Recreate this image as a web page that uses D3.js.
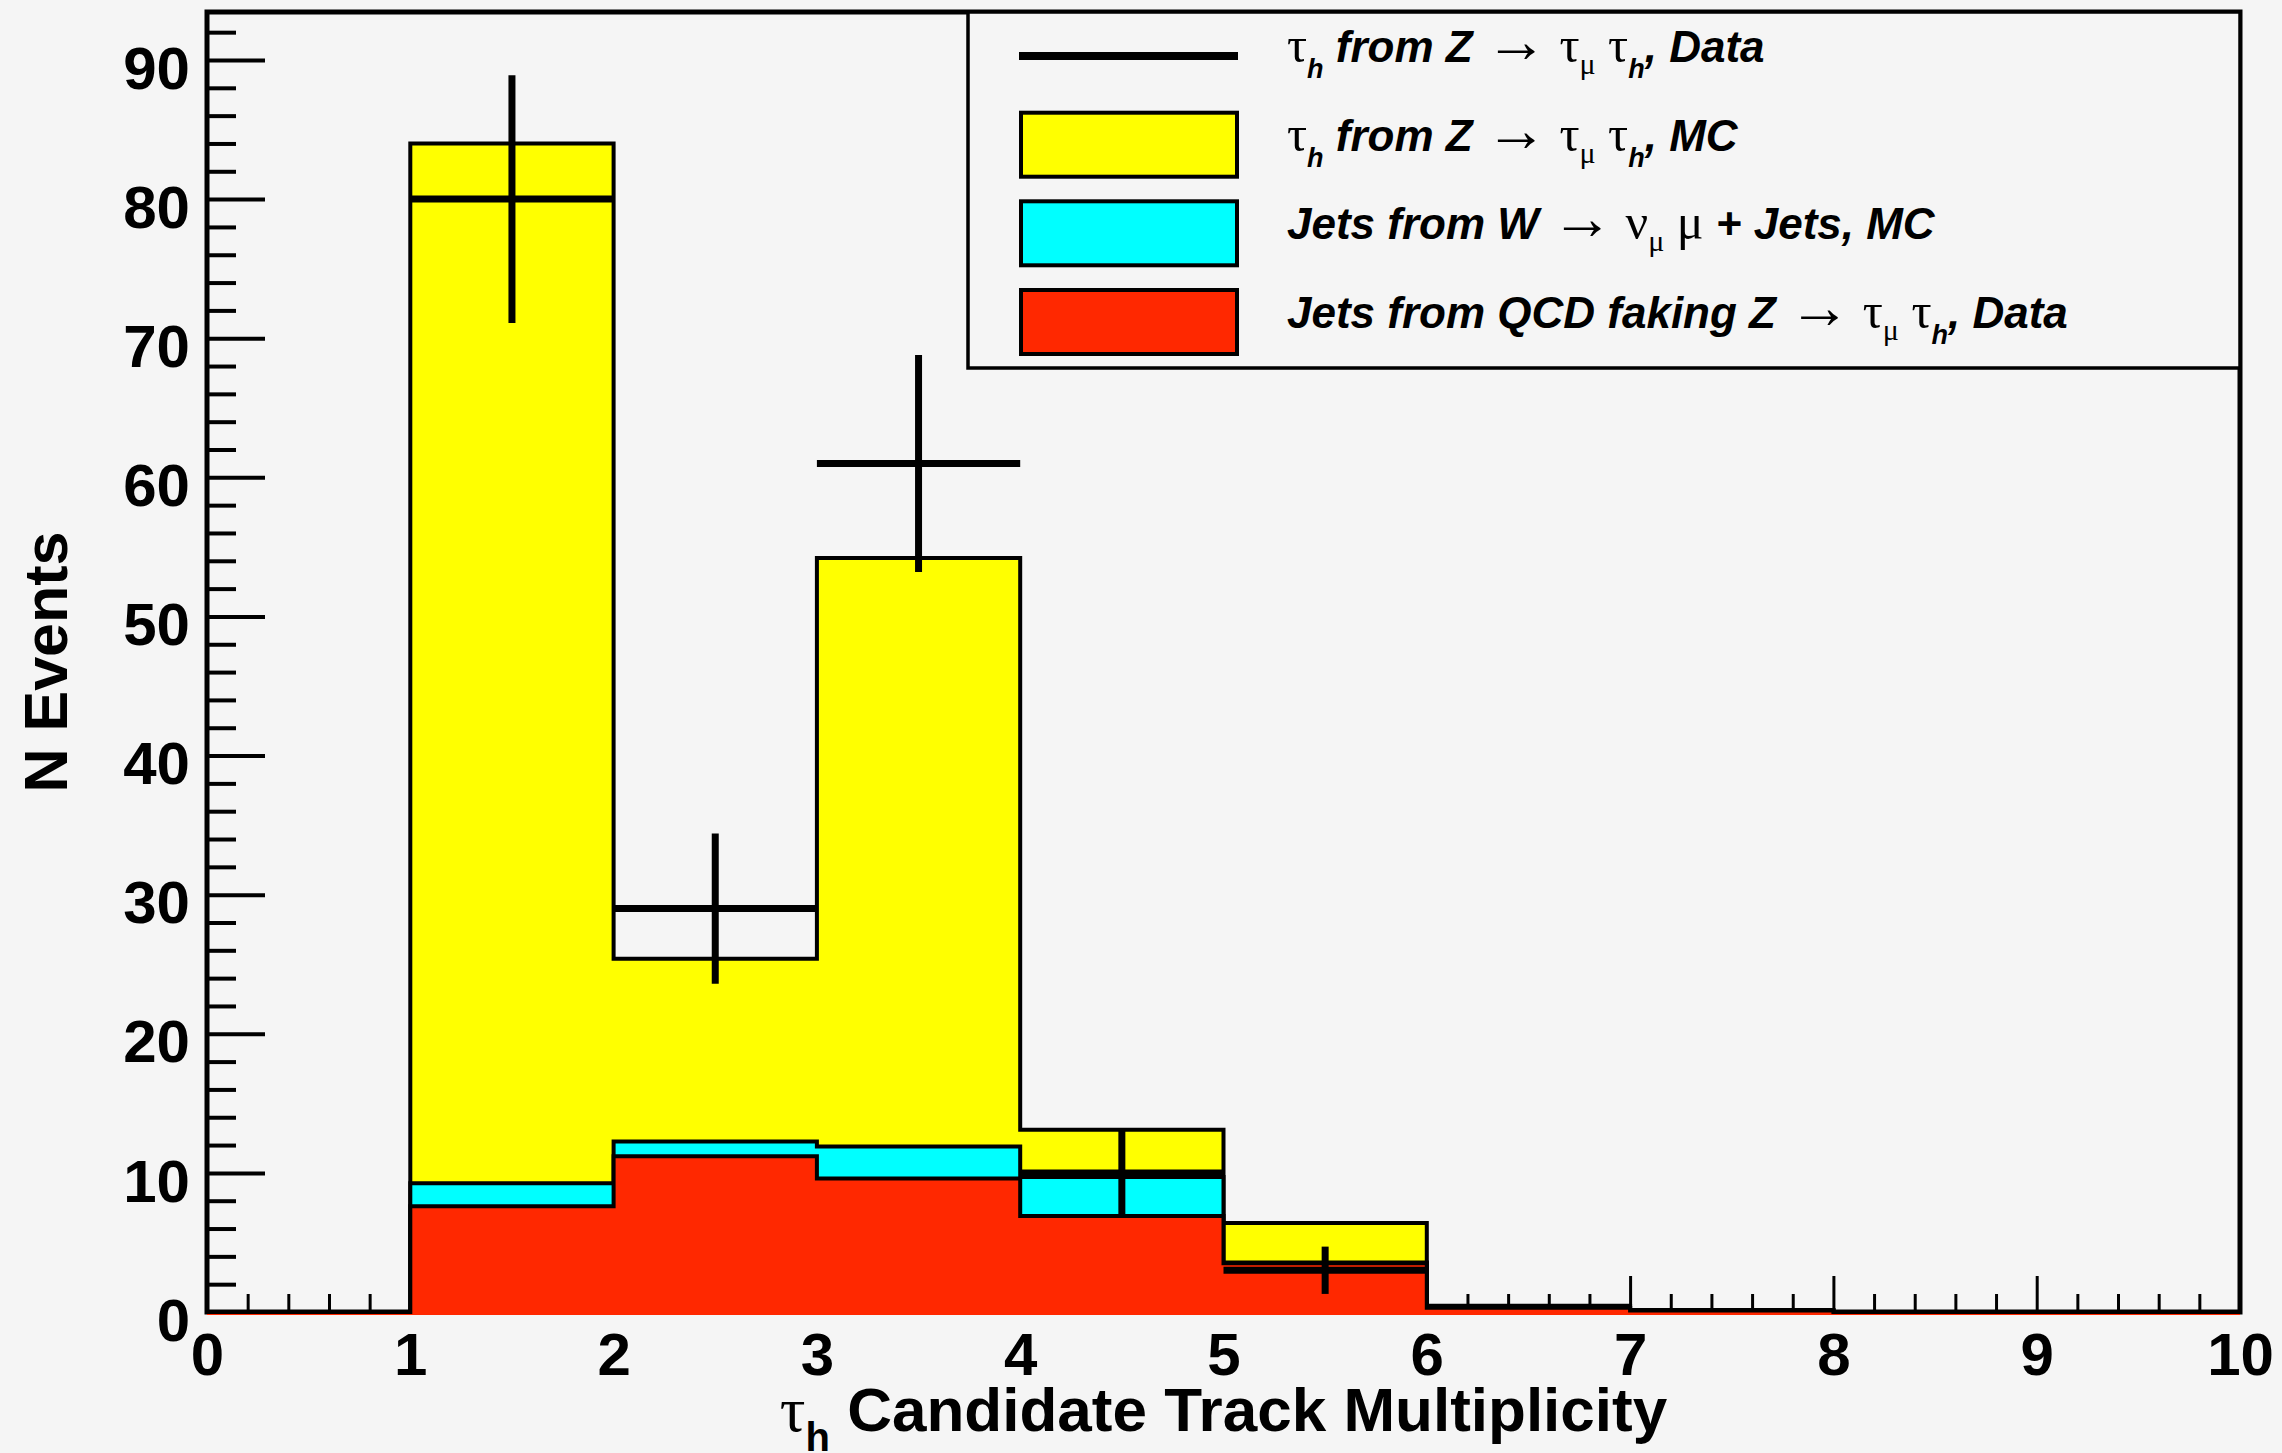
<!DOCTYPE html>
<html>
<head>
<meta charset="utf-8">
<script src="https://cdn.jsdelivr.net/npm/d3@7"></script>
<style>
  html, body { margin: 0; padding: 0; background: #f5f5f5; }
  svg { display: block; }
  text { white-space: pre; }
</style>
</head>
<body>
<svg id="chart" width="2282" height="1453"></svg>
<script>
// Track multiplicity histogram: bin edges and per-bin contents
const binEdges   = [0, 1, 2, 3, 4, 5, 6, 7, 8, 9, 10];
const qcdFakes   = [0, 7.6, 11.2, 9.6, 6.9, 3.5, 0.3, 0.1, 0, 0];      // jets from QCD (data-driven)
const wJets      = [0, 1.65, 1.05, 2.3, 2.8, 0.05, 0, 0, 0, 0];        // jets from W + jets (MC)
const zTauTauMC  = [0, 74.75, 13.15, 42.3, 3.4, 2.85, 0.15, 0.05, 0, 0]; // tau_h from Z -> tau tau (MC)
const dataCounts = [0, 80, 29, 61, 10, 3, 0, 0, 0, 0];
const dataErrors = [0, 8.9, 5.4, 7.8, 3.2, 1.7, 0, 0, 0, 0];

const xTicks = [0, 1, 2, 3, 4, 5, 6, 7, 8, 9, 10];
const yTicks = [0, 10, 20, 30, 40, 50, 60, 70, 80, 90];
const yMax = 93.45;

const fillColors = { z: "#ffff00", w: "#00ffff", qcd: "#ff2800" };

// Legend rows: segments of rich text (g = greek glyph, a = arrow, sub = subscript)
const legendKinds = ["line", "z", "w", "qcd"];
const legendLabels = [
  [{t:"τ",g:1},{t:"h",sub:1},{t:" from Z "},{t:"→",a:1},{t:" τ",g:1},{t:"μ",g:1,sub:1},{t:" τ",g:1},{t:"h",sub:1},{t:", Data"}],
  [{t:"τ",g:1},{t:"h",sub:1},{t:" from Z "},{t:"→",a:1},{t:" τ",g:1},{t:"μ",g:1,sub:1},{t:" τ",g:1},{t:"h",sub:1},{t:", MC"}],
  [{t:"Jets from W "},{t:"→",a:1},{t:" ν",g:1},{t:"μ",g:1,sub:1},{t:" μ",g:1},{t:" + Jets, MC"}],
  [{t:"Jets from QCD faking Z "},{t:"→",a:1},{t:" τ",g:1},{t:"μ",g:1,sub:1},{t:" τ",g:1},{t:"h",sub:1},{t:", Data"}]
];

const SANS = "'Liberation Sans', Arial, Helvetica, sans-serif";
const SERIF = "'Liberation Serif', 'Times New Roman', serif";

const svg = d3.select("#chart");
svg.append("rect").attr("width", 2282).attr("height", 1453).attr("fill", "#f5f5f5");

const x = d3.scaleLinear().domain([0, 10]).range([207, 2240]);
const y = d3.scaleLinear().domain([0, yMax]).range([1312, 12]);

// ---- axes (ticks point inward) ----
const yMinor = d3.range(0, yMax, 2).filter(v => v % 10 !== 0);
const xMinor = d3.range(0, 10.001, 0.2).map(v => +v.toFixed(1)).filter(v => Math.abs(v - Math.round(v)) > 1e-6);

function styleAxis(g, width) {
  g.select(".domain").remove();
  g.selectAll(".tick line").attr("stroke", "#000").attr("stroke-width", width);
  g.selectAll(".tick text")
    .attr("fill", "#000")
    .style("font-family", SANS)
    .style("font-weight", "bold")
    .style("font-size", "60px");
}

const gY = svg.append("g").attr("transform", `translate(${x(0)},0)`)
  .call(d3.axisLeft(y).tickValues(yTicks).tickSizeInner(-58).tickSizeOuter(0).tickPadding(17).tickFormat(d3.format("d")));
styleAxis(gY, 4);
gY.selectAll(".tick text").attr("dy", "0.47em");

const gYm = svg.append("g").attr("transform", `translate(${x(0)},0)`)
  .call(d3.axisLeft(y).tickValues(yMinor).tickSizeInner(-29).tickSizeOuter(0).tickFormat(""));
styleAxis(gYm, 4);

const gX = svg.append("g").attr("transform", `translate(0,${y(0)})`)
  .call(d3.axisBottom(x).tickValues(xTicks).tickSizeInner(-36).tickSizeOuter(0).tickPadding(20).tickFormat(d3.format("d")));
styleAxis(gX, 3);

const gXm = svg.append("g").attr("transform", `translate(0,${y(0)})`)
  .call(d3.axisBottom(x).tickValues(xMinor).tickSizeInner(-18).tickSizeOuter(0).tickFormat(""));
styleAxis(gXm, 3);

// frame
svg.append("rect")
  .attr("x", x(0)).attr("y", y(yMax))
  .attr("width", x(10) - x(0)).attr("height", y(0) - y(yMax))
  .attr("fill", "none").attr("stroke", "#000").attr("stroke-width", 5);

// ---- stacked histograms (each filled from zero, drawn top layer first) ----
const rows = binEdges.slice(0, -1).map((e, i) => ({ qcd: qcdFakes[i], w: wJets[i], z: zTauTauMC[i] }));
const layers = d3.stack().keys(["qcd", "w", "z"])(rows);

const area = d3.area().curve(d3.curveStepAfter)
  .x(p => x(p[0])).y0(y(0) + 3).y1(p => y(p[1]));
const outline = d3.line().curve(d3.curveStepAfter)
  .x(p => x(p[0])).y(p => y(p[1]));

layers.slice().reverse().forEach(layer => {
  const pts = layer.map((d, i) => [binEdges[i], d[1]]);
  pts.push([binEdges[binEdges.length - 1], layer[layer.length - 1][1]]);
  const g = svg.append("g").attr("class", "hist-" + layer.key);
  g.append("path").attr("d", area(pts)).attr("fill", fillColors[layer.key]);
  g.append("path").attr("d", outline(pts))
    .attr("fill", "none").attr("stroke", "#000").attr("stroke-width", 4)
    .attr("stroke-linejoin", "miter");
});

// ---- data points with Poisson error bars ----
const dataPts = dataCounts.map((v, i) => ({ lo: binEdges[i], hi: binEdges[i + 1], v, e: dataErrors[i] }))
  .filter(d => d.v > 0);
const gData = svg.append("g").attr("class", "data").attr("stroke", "#000").attr("stroke-width", 7);
gData.selectAll("line.h").data(dataPts).join("line").attr("class", "h")
  .attr("x1", d => x(d.lo)).attr("x2", d => x(d.hi))
  .attr("y1", d => y(d.v)).attr("y2", d => y(d.v));
gData.selectAll("line.v").data(dataPts).join("line").attr("class", "v")
  .attr("x1", d => x((d.lo + d.hi) / 2)).attr("x2", d => x((d.lo + d.hi) / 2))
  .attr("y1", d => y(d.v + d.e)).attr("y2", d => y(d.v - d.e));

// ---- legend ----
const leg = { x0: 968, y0: 12, x1: 2240, y1: 368 };
const gLeg = svg.append("g").attr("class", "legend");
gLeg.append("rect")
  .attr("x", leg.x0).attr("y", leg.y0).attr("width", leg.x1 - leg.x0).attr("height", leg.y1 - leg.y0)
  .attr("fill", "#f5f5f5").attr("stroke", "#000").attr("stroke-width", 3.5);

const rowBase = [62, 150.7, 239.3, 328];
legendKinds.forEach((kind, i) => {
  const cy = rowBase[i] - 6;
  if (kind === "line") {
    gLeg.append("line").attr("x1", 1019).attr("x2", 1238).attr("y1", cy).attr("y2", cy)
      .attr("stroke", "#000").attr("stroke-width", 8);
  } else {
    gLeg.append("rect").attr("x", 1021).attr("y", cy - 32).attr("width", 216).attr("height", 64)
      .attr("fill", fillColors[kind]).attr("stroke", "#000").attr("stroke-width", 4);
  }
  const txt = gLeg.append("text").attr("x", 1287).attr("y", rowBase[i]).attr("fill", "#000");
  let shift = 0;
  legendLabels[i].forEach(seg => {
    const s = seg.sub ? (seg.g ? 12 : 16) : 0;
    const plain = seg.g || seg.a;
    const size = seg.sub ? (seg.g ? 30 : 27) : (seg.a ? 62 : (seg.g ? 50 : 44));
    txt.append("tspan")
      .attr("dy", s - shift)
      .style("font-family", plain ? SERIF : SANS)
      .style("font-style", plain ? "normal" : "italic")
      .style("font-weight", plain ? "normal" : "bold")
      .style("font-size", size + "px")
      .text(seg.t);
    shift = s;
  });
});

// ---- axis titles ----
const xt = svg.append("text").attr("x", (x(0) + x(10)) / 2).attr("y", 1431)
  .attr("text-anchor", "middle").attr("fill", "#000");
xt.append("tspan").style("font-family", SERIF).style("font-size", "64px").text("τ");
xt.append("tspan").attr("dy", 20).style("font-family", SANS).style("font-weight", "bold").style("font-size", "40px").text("h");
xt.append("tspan").attr("dy", -20).style("font-family", SANS).style("font-weight", "bold").style("font-size", "62px").text(" Candidate Track Multiplicity");

svg.append("text")
  .attr("transform", `translate(67,${(y(0) + y(yMax)) / 2}) rotate(-90)`)
  .attr("text-anchor", "middle").attr("fill", "#000")
  .style("font-family", SANS).style("font-weight", "bold").style("font-size", "61px")
  .text("N Events");
</script>
</body>
</html>
